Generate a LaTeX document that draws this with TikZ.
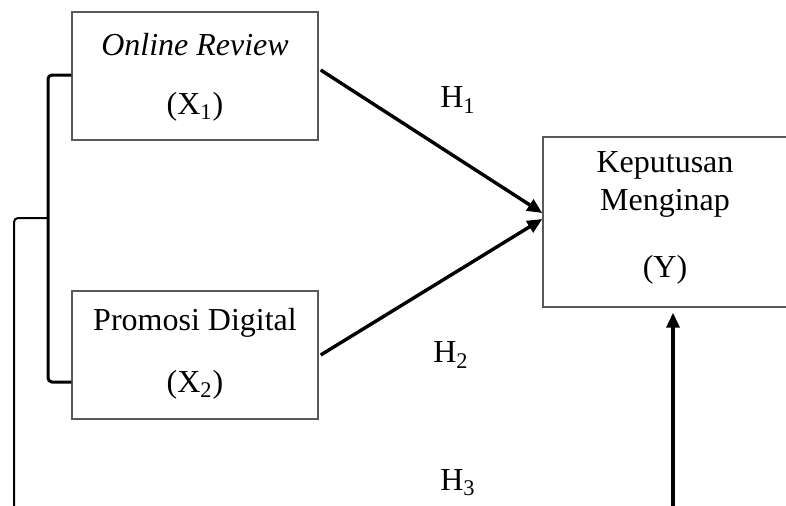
\documentclass[tikz,border=0pt]{standalone}
\usepackage{fontspec}
\setmainfont{Liberation Serif}
\usetikzlibrary{arrows.meta,calc}
\begin{document}
\begin{tikzpicture}[x=0.5pt,y=-0.5pt,
  varbox/.style={draw=black!65,line width=0.7pt,fill=none,inner sep=0pt},
  lbl/.style={inner sep=0pt,font=\fontsize{16}{19}\selectfont},
  link/.style={line width=1.7pt,-{Triangle[length=7.5pt,width=6.5pt]}},
  brace/.style={line width=1.5pt,rounded corners=2pt}]
\useasboundingbox (0,0) rectangle (786,505);
\clip (0,0) rectangle (786,505);

% variable boxes
\node[varbox,minimum width=123pt,minimum height=64pt] (x1) at (195,76) {};
\node[varbox,minimum width=123pt,minimum height=64pt] (x2) at (195,355) {};
\node[varbox,minimum width=130pt,minimum height=85pt] (y) at (673,222) {};

% box texts
\node[lbl] (t1) at (195,45) {\itshape Online Review};
\node[lbl] (t1s) at (195,107) {(X\textsubscript{1})};
\node[lbl] (t2) at (195,323) {Promosi Digital};
\node[lbl] (t2s) at (195,385) {(X\textsubscript{2})};
\node[lbl] (t3) at (665,165) {Keputusan};
\node[lbl] (t3b) at (665,203) {Menginap};
\node[lbl] (t3s) at (665,270) {(Y)};

% hypothesis labels
\node[lbl] (h1) at (458,100) {H\textsubscript{1}};
\node[lbl] (h2) at (451,355) {H\textsubscript{2}};
\node[lbl] (h3) at (458,483) {H\textsubscript{3}};

% bracket joining X1 and X2
\coordinate (bt) at (48,75);
\coordinate (bb) at (48,382);
\coordinate (bm) at (48,218);
\draw[brace] (x1.west |- bt) -- (bt) -- (bb) -- (x2.west |- bb);

% simultaneous path to Y
\coordinate (lo) at (14,520);
\coordinate (up) at (673,520);
\draw[line width=1pt,rounded corners=2pt] (bm) -- (14,218) -- (lo);
\draw[link] (up) -- ($(y.south)+(0,5)$);

% partial paths
\draw[link] ($(x1.east)+(2,-6)$) -- ($(y.west)+(0,-9)$);
\draw[link] ($(x2.east)+(2,0)$) -- ($(y.west)+(0,-3)$);
\end{tikzpicture}
\end{document}
